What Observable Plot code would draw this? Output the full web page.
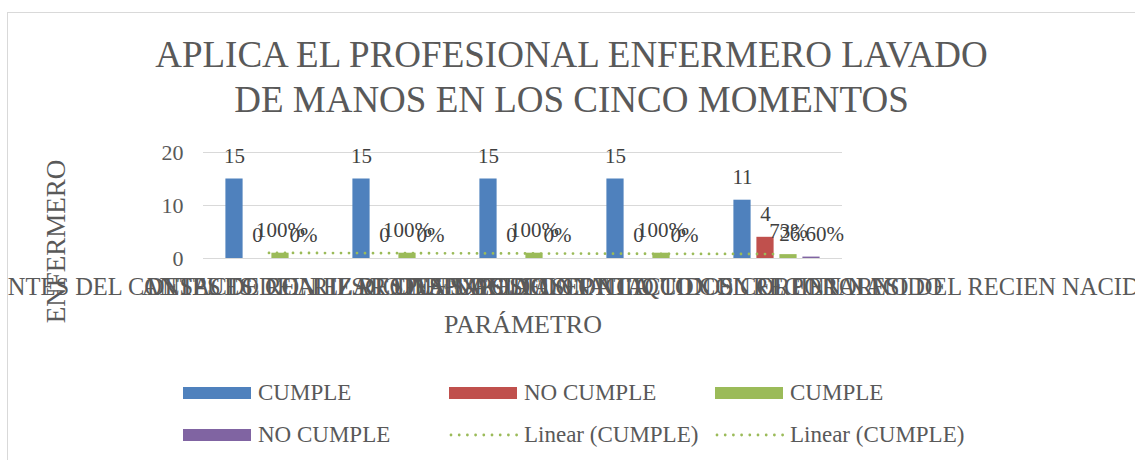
<!DOCTYPE html>
<html><head><meta charset="utf-8">
<script src="https://cdn.jsdelivr.net/npm/d3@7"></script>
<script src="https://cdn.jsdelivr.net/npm/@observablehq/plot@0.6"></script>
<style>
body{margin:0;background:#fff;font-family:"Liberation Serif","Times New Roman",serif;color:#595959;}
#frame{position:absolute;left:7px;top:12px;width:1140px;height:470px;border:1px solid #d9d9d9;overflow:hidden;}
#chart{position:absolute;left:-8px;top:117px;}
#title{position:absolute;left:0;top:32px;width:1143px;text-align:center;font-size:37px;line-height:45px;}
.leg{position:absolute;font-size:23px;line-height:23px;white-space:nowrap;}
.sw{position:absolute;width:68px;height:12px;}
</style></head><body>
<div id="frame"><div id="chart"></div></div>
<div id="title">APLICA EL PROFESIONAL ENFERMERO LAVADO<br>DE MANOS EN LOS CINCO MOMENTOS</div>
<div id="legend"></div>
<script>
// ---- data ----
const categories = [
  "ANTES DEL CONTACTO CON EL RECIEN NACIDO",
  "ANTES DE REALIZAR UNA TAREA ASEPTICA",
  "DESPUES DEL RIESGO DE EXPOSICION A LIQUIDOS CORPORALES",
  "DESPUES DEL CONTACTO CON EL RECIEN NACIDO",
  "DESPUES DEL CONTACTO CON EL ENTORNO DEL RECIEN NACIDO"
];
const cumple = [15, 15, 15, 15, 11];
const noCumple = [0, 0, 0, 0, 4];
const cumplePct = [100, 100, 100, 100, 73];
const noCumplePct = [0, 0, 0, 0, 26.6];
const seriesNames = ["CUMPLE", "NO CUMPLE", "CUMPLE", "NO CUMPLE"];
const trendNames = ["Linear (CUMPLE)", "Linear (CUMPLE)"];
const yTicks = [0, 10, 20];
const colors = ["#4F81BD", "#C0504D", "#9BBB59", "#8064A2"];
const xTitle = "PARÁMETRO";
const yTitle = "ENFERMERO";

// ---- layout ----
const W = 1135, H = 215;
const mL = 203, mR = 293, mT = 22, mB = 87;
const bw = (W - mL - mR) / categories.length;
const barW = 18, pitch = 23;
const first = bw / 2 - (pitch * 3 + barW) / 2;

const pctFmt = v => (Number.isInteger(v) ? v : v.toFixed(2)) + "%";
const series = [
  {values: cumple, labels: cumple.map(String)},
  {values: noCumple, labels: noCumple.map(String)},
  {values: cumplePct.map(v => v / 100), labels: cumplePct.map(pctFmt)},
  {values: noCumplePct.map(v => v / 100), labels: noCumplePct.map(pctFmt)}
];

// linear trendline of the CUMPLE (%) series
const tv = series[2].values, n = tv.length;
const mx = (n - 1) / 2, my = d3.mean(tv);
const slope = d3.sum(tv, (v, i) => (i - mx) * (v - my)) / d3.sum(tv, (v, i) => (i - mx) ** 2);
const trend = categories.map((c, i) => ({cat: c, v: my + slope * (i - mx)}));

const marks = [
  Plot.gridY({ticks: yTicks, stroke: "#d9d9d9", strokeOpacity: 1, strokeWidth: 1.2}),
  Plot.axisY({ticks: yTicks, tickSize: 0, tickPadding: 20, fontSize: 22, label: null}),
  Plot.axisX({tickSize: 0, tickPadding: 19, fontSize: 24.5, label: null})
];
series.forEach((s, i) => {
  const data = categories.map((c, j) => ({cat: c, v: s.values[j], lab: s.labels[j]}));
  const off = first + pitch * i;
  marks.push(Plot.barY(data, {x: "cat", y: "v", fill: colors[i], insetLeft: off, insetRight: bw - off - barW}));
});
marks.push(Plot.line(trend, {x: "cat", y: "v", stroke: colors[2], strokeWidth: 2.8, strokeDasharray: "0 8", strokeLinecap: "round"}));
series.forEach((s, i) => {
  const data = categories.map((c, j) => ({cat: c, v: s.values[j], lab: s.labels[j]}));
  const off = first + pitch * i;
  marks.push(Plot.text(data, {x: "cat", y: "v", text: "lab", dx: off + barW / 2 - bw / 2, dy: -23, fontSize: 21, fill: "#404040"}));
});
marks.push(Plot.text([yTitle], {frameAnchor: "left", textAnchor: "middle", lineAnchor: "middle", rotate: -90, dx: -147, dy: 36, fontSize: 27, fill: "#595959"}));
marks.push(Plot.text([xTitle], {frameAnchor: "bottom", textAnchor: "middle", lineAnchor: "bottom", dy: 74, fontSize: 26, fill: "#595959"}));

const chart = Plot.plot({
  width: W, height: H,
  marginLeft: mL, marginRight: mR, marginTop: mT, marginBottom: mB,
  x: {domain: categories, padding: 0},
  y: {domain: [0, 20]},
  style: {fontFamily: "'Liberation Serif','Times New Roman',serif", color: "#595959", background: "transparent", overflow: "visible", maxWidth: "none"},
  marks
});
document.getElementById("chart").appendChild(chart);

// ---- legend ----
const leg = document.getElementById("legend");
const colX = [183, 449, 715];
const items = [
  {name: seriesNames[0], color: colors[0], type: "bar"},
  {name: seriesNames[1], color: colors[1], type: "bar"},
  {name: seriesNames[2], color: colors[2], type: "bar"},
  {name: seriesNames[3], color: colors[3], type: "bar"},
  {name: trendNames[0], color: colors[2], type: "dot"},
  {name: trendNames[1], color: colors[2], type: "dot"}
];
const rowY = [393, 435];
items.forEach((it, k) => {
  const x = colX[k % 3], yc = rowY[Math.floor(k / 3)];
  if (it.type === "bar") {
    const sw = document.createElement("div");
    sw.className = "sw";
    sw.style.left = x + "px"; sw.style.top = (yc - 6) + "px"; sw.style.background = it.color;
    leg.appendChild(sw);
  } else {
    const ns = "http://www.w3.org/2000/svg";
    const svg = document.createElementNS(ns, "svg");
    svg.setAttribute("width", 70); svg.setAttribute("height", 8);
    svg.style.position = "absolute"; svg.style.left = x + "px"; svg.style.top = (yc - 4) + "px";
    const l = document.createElementNS(ns, "line");
    l.setAttribute("x1", 2); l.setAttribute("x2", 68); l.setAttribute("y1", 4); l.setAttribute("y2", 4);
    l.setAttribute("stroke", it.color); l.setAttribute("stroke-width", 2.8);
    l.setAttribute("stroke-dasharray", "0 8.2"); l.setAttribute("stroke-linecap", "round");
    svg.appendChild(l); leg.appendChild(svg);
  }
  const t = document.createElement("div");
  t.className = "leg"; t.textContent = it.name;
  t.style.left = (x + 75) + "px"; t.style.top = (yc + 7 - 19.3) + "px";
  leg.appendChild(t);
});
</script>
</body></html>
